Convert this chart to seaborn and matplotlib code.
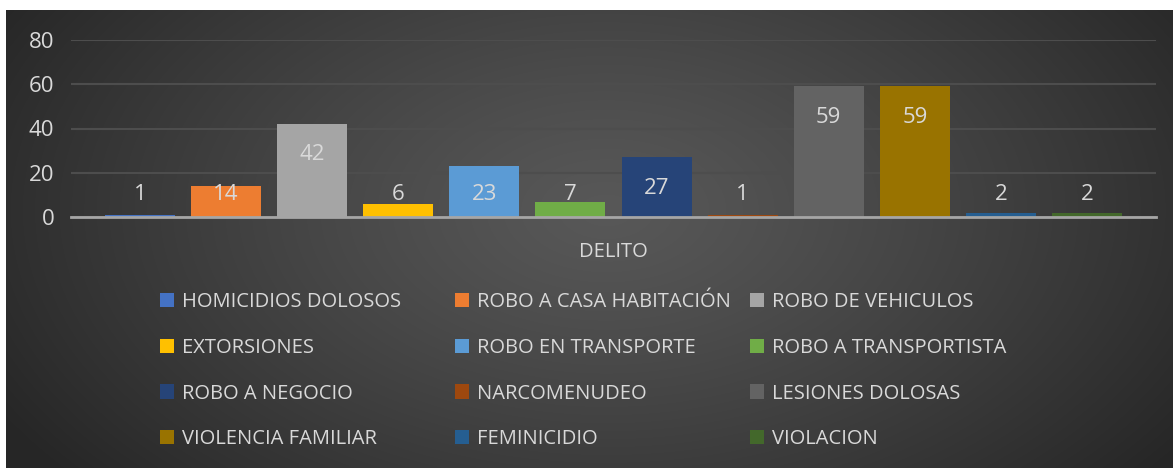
import numpy as np
import pandas as pd
import matplotlib
matplotlib.use("Agg")
import matplotlib.pyplot as plt
import seaborn as sns
from matplotlib.patches import Patch

delitos = ["HOMICIDIOS DOLOSOS", "ROBO A CASA HABITACIÓN", "ROBO DE VEHICULOS",
           "EXTORSIONES", "ROBO EN TRANSPORTE", "ROBO A TRANSPORTISTA",
           "ROBO A NEGOCIO", "NARCOMENUDEO", "LESIONES DOLOSAS",
           "VIOLENCIA FAMILIAR", "FEMINICIDIO", "VIOLACION"]
valores = [1, 14, 42, 6, 23, 7, 27, 1, 59, 59, 2, 2]
colores = ["#4472C4", "#ED7D31", "#A5A5A5", "#FFC000", "#5B9BD5", "#70AD47",
           "#264478", "#9E480E", "#636363", "#997300", "#255E91", "#43682B"]
yticks = [0, 20, 40, 60, 80]
xlabel = "DELITO"

sns.set_theme(style="white")
plt.rcParams["font.family"] = ["Open Sans", "DejaVu Sans"]
txt = "#d9d9d9"

W, H = 1173, 468
fig = plt.figure(figsize=(W / 100, H / 100), dpi=100)
fig.patch.set_facecolor("white")

# radial gradient background
bg = fig.add_axes([6 / W, 0, 1 - 6 / W, 458 / H])
bg.set_axis_off()
yy, xx = np.mgrid[0:458, 0:1167]
cx, cy = 600, 200
r = np.sqrt(((xx - cx) / 700) ** 2 + ((yy - cy) / 420) ** 2)
r = np.clip(r, 0, 1)
vals = 0.345 - (0.345 - 0.15) * r ** 1.2
img = np.dstack([vals, vals, vals])
bg.imshow(img, aspect="auto", extent=[0, 1, 0, 1], origin="upper")

ax = fig.add_axes([71 / W, 1 - 217 / H, 1085 / W, 177 / H])
ax.set_facecolor("none")

df = pd.DataFrame({"delito": delitos, "valor": valores})
sns.barplot(data=df, x="delito", y="valor", hue="delito", palette=colores,
            hue_order=delitos, order=delitos, width=0.814, dodge=False,
            legend=False, ax=ax, saturation=1, zorder=3, linewidth=0,
            edgecolor="none")

ax.set_xlim(-0.8, 11.8)
ax.set_ylim(0, 80)
ax.set_yticks(yticks)
ax.set_yticklabels([str(t) for t in yticks], color=txt, fontsize=16)
ax.tick_params(axis="y", length=0, pad=12)
ax.set_xticks([])
ax.set_xlabel(xlabel, color=txt, fontsize=14.5, labelpad=18)
ax.set_ylabel("")
for s in ["top", "right", "left"]:
    ax.spines[s].set_visible(False)
ax.spines["bottom"].set_color("#a6a6a6")
ax.spines["bottom"].set_linewidth(2)
ax.spines["bottom"].set_zorder(4)
ax.yaxis.grid(True, color="#4d4d4d", linewidth=1.5)
ax.set_axisbelow(True)

for i, v in enumerate(valores):
    ax.text(i, max(v - 13.9, 10.0), str(v), ha="center", va="center",
            color=txt, fontsize=16, zorder=5)

# legend: three columns, row-major order
handles = [Patch(facecolor=c, edgecolor="none") for c in colores]
col_x = [160, 455, 750]
for c in range(3):
    idx = list(range(c, 12, 3))
    leg = fig.legend([handles[i] for i in idx], [delitos[i] for i in idx],
                     loc="upper left", bbox_to_anchor=(col_x[c] / W, 1 - 292 / H),
                     frameon=False, fontsize=14.5, labelcolor=txt,
                     handlelength=0.7, handleheight=0.7, handletextpad=0.4,
                     labelspacing=1.28, borderpad=0, borderaxespad=0)

fig.savefig("out.png", dpi=100)
